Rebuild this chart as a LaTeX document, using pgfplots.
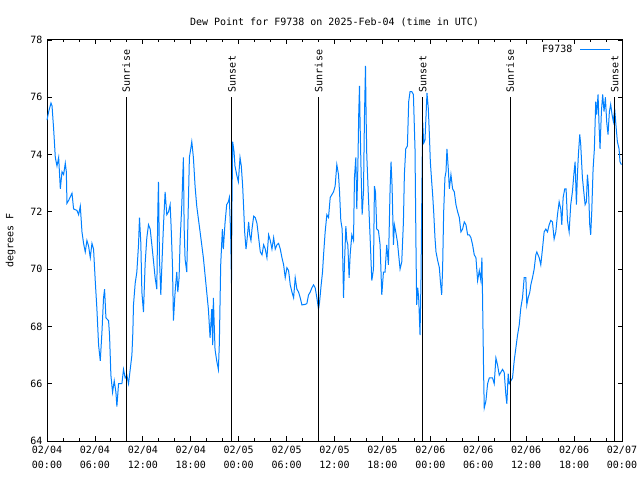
\documentclass[border=0pt]{standalone}
\usepackage{pgfplots}
\pgfplotsset{compat=1.18}
\usepackage{fontspec}
\setmainfont{DejaVu Sans Mono}
\definecolor{dpblue}{RGB}{0,128,255}
\begin{document}
\begin{tikzpicture}
\fontsize{10bp}{12bp}\selectfont
\path[use as bounding box] (0,0) rectangle (640bp,480bp);
\begin{axis}[
  at={(47bp,39bp)}, anchor=south west,
  scale only axis, width=575bp, height=401bp,
  xmin=0, xmax=72, ymin=64, ymax=78,
  xtick={0,6,...,72}, minor x tick num=2,
  ytick={64,66,...,78},
  xticklabels={{02/04\\00:00},{02/04\\06:00},{02/04\\12:00},{02/04\\18:00},{02/05\\00:00},{02/05\\06:00},{02/05\\12:00},{02/05\\18:00},{02/06\\00:00},{02/06\\06:00},{02/06\\12:00},{02/06\\18:00},{02/07\\00:00}},
  xticklabel style={align=center, font=\fontsize{10bp}{15bp}\selectfont, yshift=-2bp},
  yticklabel style={font=\fontsize{10bp}{12bp}\selectfont, xshift=-1bp},
  /pgf/number format/assume math mode=true,
  major tick length=4.5bp, minor tick length=2.5bp,
  tick style={black, line width=0.8bp},
  axis line style={line width=1bp},
  title={Dew Point for F9738 on 2025-Feb-04 (time in UTC)},
  title style={font=\fontsize{10bp}{12bp}\selectfont, yshift=4bp},
  ylabel={degrees F},
  ylabel style={font=\fontsize{10bp}{12bp}\selectfont, yshift=8bp},
  legend style={draw=none, fill=none, at={(1,1)}, anchor=north east, xshift=-8bp, yshift=-1bp, font=\fontsize{10bp}{12bp}\selectfont, legend cell align=right},
  legend plot pos=right,
  legend image code/.code={\path[draw=none,fill=none] (0bp,0bp) (36bp,0bp); \draw[#1] (6bp,0bp) -- (36bp,0bp);},
  clip=false,
]
\addplot[dpblue, line width=1bp] coordinates {
(0.0,75.2) (0.21,75.5) (0.5,75.8) (0.63,75.7) (0.83,74.9) (1.04,73.9) (1.25,73.6) (1.46,73.9) (1.67,72.8) (1.88,73.4)
(2.08,73.3) (2.29,73.7) (2.42,73.4) (2.5,72.3) (2.71,72.4) (3.13,72.65) (3.33,72.1) (3.75,72.05) (3.96,71.9) (4.17,72.2)
(4.38,71.3) (4.58,70.9) (4.79,70.6) (5.0,71.0) (5.21,70.8) (5.42,70.4) (5.63,70.9) (5.83,70.7) (6.04,69.6) (6.25,68.6)
(6.46,67.35) (6.67,66.8) (6.88,67.8) (7.08,69.0) (7.21,69.3) (7.38,68.3) (7.71,68.2) (7.83,67.7) (8.0,66.3) (8.21,65.7)
(8.42,66.1) (8.63,65.7) (8.75,65.2) (8.96,66.0) (9.38,66.0) (9.58,66.5) (9.79,66.2) (10.0,66.3) (10.21,66.0) (10.42,66.5)
(10.63,67.0) (10.75,67.8) (10.83,68.75) (11.04,69.5) (11.25,69.9) (11.46,70.85) (11.58,71.8) (11.75,70.9) (11.88,69.2) (12.08,68.5)
(12.29,70.2) (12.5,71.1) (12.71,71.55) (12.92,71.4) (13.13,70.85) (13.33,70.3) (13.54,69.7) (13.75,69.3) (13.88,72.1) (13.96,73.05)
(14.08,70.4) (14.25,69.1) (14.42,70.4) (14.58,71.5) (14.79,72.7) (15.0,71.9) (15.21,72.0) (15.42,72.25) (15.54,71.5) (15.71,70.15)
(15.83,68.2) (16.04,69.2) (16.25,69.9) (16.38,69.2) (16.54,69.7) (16.67,71.0) (16.88,72.25) (17.08,73.9) (17.17,71.5) (17.29,70.35)
(17.5,69.9) (17.71,72.4) (17.83,73.9) (18.0,74.2) (18.13,74.45) (18.33,73.9) (18.54,72.9) (18.75,72.2) (19.17,71.3) (19.58,70.4)
(20.0,69.2) (20.21,68.6) (20.42,67.6) (20.63,68.6) (20.75,67.35) (20.83,69.0) (21.04,67.2) (21.25,66.8) (21.46,66.5) (21.58,67.4)
(21.75,70.15) (21.96,71.4) (22.08,70.7) (22.29,71.6) (22.5,72.25) (22.71,72.35) (22.83,72.5) (23.0,71.2) (23.1,69.5) (23.15,72.0)
(23.25,74.45) (23.42,74.1) (23.54,73.6) (23.75,73.3) (23.96,73.05) (24.17,73.9) (24.33,73.6) (24.5,72.9) (24.63,72.1) (24.75,71.3)
(24.92,70.7) (25.04,71.0) (25.25,71.65) (25.38,71.2) (25.54,71.0) (25.67,71.4) (25.88,71.85) (26.08,71.8) (26.29,71.6) (26.5,71.1)
(26.71,70.6) (26.92,70.5) (27.13,70.85) (27.33,70.7) (27.54,70.4) (27.75,71.2) (27.96,71.0) (28.17,70.7) (28.38,71.1) (28.58,70.7)
(28.79,70.85) (29.0,70.9) (29.21,70.7) (29.42,70.4) (29.63,70.15) (29.83,69.7) (30.04,70.05) (30.25,69.95) (30.46,69.45) (30.67,69.2)
(30.88,69.0) (31.08,69.7) (31.29,69.3) (31.5,69.2) (31.71,69.0) (31.92,68.75) (32.33,68.77) (32.54,68.8) (32.75,69.1) (32.96,69.2)
(33.17,69.35) (33.38,69.45) (33.58,69.35) (33.79,69.0) (34.0,68.6) (34.13,68.85) (34.33,69.45) (34.5,69.9) (34.63,70.5) (34.83,71.3)
(35.04,71.9) (35.25,71.8) (35.46,72.5) (35.67,72.6) (35.88,72.7) (36.08,72.9) (36.29,73.65) (36.5,73.3) (36.63,72.7) (36.79,71.7)
(36.96,71.4) (37.13,69.0) (37.25,70.2) (37.42,71.5) (37.54,71.0) (37.67,70.85) (37.83,69.7) (37.96,70.5) (38.17,71.2) (38.38,71.0)
(38.5,73.2) (38.67,73.9) (38.79,72.1) (38.92,73.5) (39.04,75.5) (39.13,76.4) (39.21,75.0) (39.33,73.4) (39.46,71.9) (39.63,72.7)
(39.75,75.3) (39.88,77.1) (39.96,75.3) (40.04,74.0) (40.25,72.5) (40.46,71.1) (40.67,69.6) (40.88,70.0) (41.0,72.9) (41.13,72.7)
(41.29,71.4) (41.5,71.35) (41.71,70.85) (41.92,69.1) (42.13,69.9) (42.33,69.9) (42.54,70.85) (42.75,70.15) (42.96,72.8) (43.08,73.75)
(43.21,72.9) (43.38,70.85) (43.5,71.55) (43.67,71.3) (43.88,70.95) (44.0,70.6) (44.21,70.0) (44.42,70.25) (44.63,71.65) (44.75,73.3)
(44.92,74.2) (45.13,74.3) (45.29,75.85) (45.46,76.2) (45.67,76.2) (45.88,76.1) (46.08,74.2) (46.21,70.6) (46.29,68.75) (46.42,69.35)
(46.54,69.0) (46.71,67.7) (46.83,69.6) (46.96,73.3) (47.04,75.15) (47.17,74.4) (47.33,74.5) (47.58,76.15) (47.75,75.6) (47.88,74.7)
(48.0,73.75) (48.17,73.05) (48.29,72.6) (48.42,72.0) (48.58,71.1) (48.71,70.6) (48.92,70.3) (49.13,70.05) (49.25,69.6) (49.42,69.1)
(49.54,70.05) (49.67,72.0) (49.83,73.2) (49.96,73.4) (50.08,74.2) (50.25,73.5) (50.38,72.8) (50.58,73.3) (50.79,72.8) (51.0,72.7)
(51.21,72.25) (51.42,72.0) (51.63,71.8) (51.83,71.3) (52.04,71.4) (52.25,71.65) (52.46,71.55) (52.67,71.2) (52.88,71.2) (53.08,71.1)
(53.29,70.85) (53.5,70.5) (53.71,70.4) (53.92,69.6) (54.13,69.95) (54.33,69.6) (54.46,70.4) (54.54,69.0) (54.67,66.4) (54.75,65.15)
(54.96,65.4) (55.17,66.0) (55.38,66.2) (55.79,66.2) (56.0,66.0) (56.21,66.9) (56.42,66.65) (56.63,66.3) (56.83,66.4) (57.04,66.5)
(57.25,66.4) (57.46,65.6) (57.58,65.3) (57.75,66.35) (57.88,66.0) (58.08,66.1) (58.29,66.2) (58.5,66.8) (58.71,67.25) (58.92,67.7)
(59.13,68.05) (59.33,68.65) (59.54,69.0) (59.75,69.7) (59.96,69.7) (60.08,68.75) (60.25,69.0) (60.46,69.2) (60.58,69.45) (60.79,69.7)
(61.0,70.0) (61.21,70.5) (61.33,70.6) (61.63,70.4) (61.83,70.15) (62.04,70.7) (62.25,71.3) (62.46,71.4) (62.67,71.3) (62.88,71.55)
(63.08,71.7) (63.29,71.65) (63.5,71.05) (63.71,71.3) (63.92,71.9) (64.13,72.35) (64.33,72.1) (64.46,71.55) (64.63,72.5) (64.83,72.8)
(65.0,72.8) (65.17,71.7) (65.38,71.3) (65.58,72.25) (65.79,72.7) (66.0,73.4) (66.13,73.75) (66.29,72.25) (66.42,73.3) (66.54,74.0)
(66.71,74.7) (66.83,74.35) (67.04,73.2) (67.25,72.6) (67.38,72.25) (67.54,72.35) (67.67,73.3) (67.79,72.9) (67.96,71.55) (68.08,71.2)
(68.21,72.0) (68.38,73.5) (68.54,74.2) (68.71,75.85) (68.83,75.4) (69.0,76.1) (69.13,75.0) (69.25,74.2) (69.42,75.5) (69.58,76.1)
(69.75,75.5) (69.92,76.0) (70.08,75.15) (70.25,74.7) (70.42,75.5) (70.58,75.75) (70.75,75.4) (70.92,75.15) (71.08,75.6) (71.25,75.0)
(71.42,74.45) (71.63,74.2) (71.75,73.75) (71.92,73.65)
};
\addlegendentry{F9738}
\addplot[black, line width=1bp, forget plot] coordinates {(9.92,64) (9.92,76)};
\addplot[black, line width=1bp, forget plot] coordinates {(23.15,64) (23.15,76)};
\addplot[black, line width=1bp, forget plot] coordinates {(34.0,64) (34.0,76)};
\addplot[black, line width=1bp, forget plot] coordinates {(47.04,64) (47.04,76)};
\addplot[black, line width=1bp, forget plot] coordinates {(58.0,64) (58.0,76)};
\addplot[black, line width=1bp, forget plot] coordinates {(71.08,64) (71.08,76)};
\node[rotate=90, anchor=west, inner sep=1bp, xshift=4bp] at (axis cs:9.92,76) {Sunrise};
\node[rotate=90, anchor=west, inner sep=1bp, xshift=4bp] at (axis cs:23.15,76) {Sunset};
\node[rotate=90, anchor=west, inner sep=1bp, xshift=4bp] at (axis cs:34.0,76) {Sunrise};
\node[rotate=90, anchor=west, inner sep=1bp, xshift=4bp] at (axis cs:47.04,76) {Sunset};
\node[rotate=90, anchor=west, inner sep=1bp, xshift=4bp] at (axis cs:58.0,76) {Sunrise};
\node[rotate=90, anchor=west, inner sep=1bp, xshift=4bp] at (axis cs:71.08,76) {Sunset};
\end{axis}
\end{tikzpicture}
\end{document}
